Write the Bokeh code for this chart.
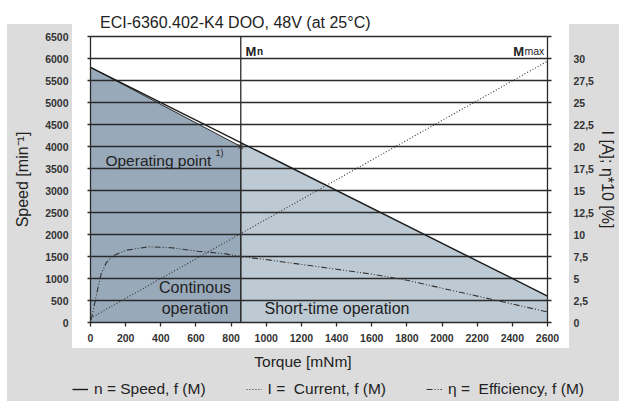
import numpy as np
from bokeh.plotting import figure
from bokeh.models import (Range1d, LinearAxis, FixedTicker, Legend, LegendItem, Label)
from bokeh.core.properties import value
from bokeh.embed import file_html
from bokeh.resources import INLINE

FONT = "Liberation Sans"

# ---------------- data ----------------
title_text = "ECI-6360.402-K4 DOO, 48V (at 25°C)"
torque_ticks = [0, 200, 400, 600, 800, 1000, 1200, 1400, 1600, 1800, 2000, 2200, 2400, 2600]
speed_ticks = [0, 500, 1000, 1500, 2000, 2500, 3000, 3500, 4000, 4500, 5000, 5500, 6000, 6500]
right_ticks = [0.0, 2.5, 5.0, 7.5, 10.0, 12.5, 15.0, 17.5, 20.0, 22.5, 25.0, 27.5, 30.0, 32.5]
right_tick_labels = ["0", "2,5", "5", "7,5", "10", "12,5", "15", "17,5", "20", "22,5",
                     "25", "27,5", "30", ""]

speed_torque = [0, 2600]
speed_values = [5800, 600]
rated_torque = 855
rated_speed = 4000
current_torque = [0, 2600]
current_values = [0.5, 29.7]
eff_torque = [3, 12, 30, 60, 90, 130, 200, 330, 460, 610, 770, 850, 1000, 1200,
              1400, 1600, 1800, 2000, 2200, 2400, 2600]
eff_values = [0.3, 1.0, 2.8, 5.5, 6.8, 7.6, 8.2, 8.6, 8.5, 8.1, 7.8, 7.5, 7.15, 6.6,
              6.05, 5.5, 4.8, 3.9, 3.0, 2.1, 1.2]

# ---------------- layout / styling ----------------
W, H = 619, 401
FL, FR, FT, FB = 90, 547, 36, 322          # pixel box of the data area
X0, X1 = torque_ticks[0], torque_ticks[-1]
Y0, Y1 = speed_ticks[0], speed_ticks[-1]
RIGHT_SCALE = 200.0                          # speed units per right-axis unit

def px_x(px):
    return X0 + (px - FL) * (X1 - X0) / (FR - FL)
def px_y(py):
    return Y0 + (FB - py) * (Y1 - Y0) / (FB - FT)

DARK = "#98a9ba"
LIGHT = "#bdcad4"
GRAY = "#dcdcdc"
INK = "#222222"
LINE = "#2a2a2a"

g = "linear-gradient(%s,%s)" % (GRAY, GRAY)
panel_styles = {
    "background-color": "white",
    "background-image": ", ".join([g, g, g]),
    "background-size": "65px 377px, 50px 377px, 612px 53px",
    "background-position": "7px 24px, 569px 24px, 7px 348px",
    "background-repeat": "no-repeat",
}

p = figure(width=W, height=H,
           x_range=Range1d(px_x(0), px_x(W)), y_range=Range1d(px_y(H), px_y(0)),
           output_backend="svg", toolbar_location=None, min_border=0,
           border_fill_color=None, background_fill_color=None,
           outline_line_color=None, styles=panel_styles)
p.extra_y_ranges = {"right": Range1d(px_y(H) / RIGHT_SCALE, px_y(0) / RIGHT_SCALE)}
p.xgrid.visible = False
p.ygrid.visible = False

# operating regions
speed_at_rated = float(np.interp(rated_torque, speed_torque, speed_values))
dark_x = [X0, speed_torque[0], rated_torque, rated_torque]
dark_y = [Y0, speed_values[0], rated_speed, Y0]
light_x = [rated_torque, rated_torque, speed_torque[1], speed_torque[1]]
light_y = [Y0, speed_at_rated, speed_values[1], Y0]
p.patch(light_x, light_y, fill_color=LIGHT, line_color=None, level="image")
p.patch(dark_x, dark_y, fill_color=DARK, line_color=LINE, line_width=1, level="image")

# horizontal grid lines (bounded to the data area) and rated-torque line
gy = speed_ticks[1:]
p.segment(x0=[X0] * len(gy), x1=[X1] * len(gy), y0=gy, y1=gy,
          line_color=LINE, line_width=1.3, level="underlay")
p.segment(x0=[rated_torque], x1=[rated_torque], y0=[Y0], y1=[Y1],
          line_color=LINE, line_width=1.3, level="underlay")

# curves
r_speed = p.line(speed_torque, speed_values, line_color="#1a1a1a", line_width=1.4)
r_curr = p.line(current_torque, current_values, y_range_name="right",
                line_color="#333333", line_width=1.1, line_dash="1 2")
r_eff = p.line(eff_torque, eff_values, y_range_name="right",
               line_color="#333333", line_width=1.1, line_dash="6 2 1 2 1 2")
p.scatter([rated_torque], [rated_speed], marker="asterisk", size=7,
          line_color="#333333", line_width=1)

# axes (fixed on the data area's edges)
def style_axis(ax, tick_out):
    ax.axis_line_color = LINE
    ax.axis_line_width = 1.3
    ax.major_tick_line_color = LINE
    ax.major_tick_line_width = 1.3
    ax.major_tick_out = tick_out
    ax.major_tick_in = 0
    ax.minor_tick_line_color = None
    ax.major_label_text_font = FONT
    ax.major_label_text_font_style = "bold"
    ax.major_label_text_font_size = "10.5px"
    ax.major_label_text_color = "#333333"
    ax.axis_label_text_font = FONT
    ax.axis_label_text_font_style = "normal"
    ax.axis_label_text_font_size = "16px"
    ax.axis_label_text_color = INK

xa = p.xaxis[0]
xa.ticker = FixedTicker(ticks=torque_ticks)
xa.fixed_location = Y0
xa.bounds = (X0, X1)
style_axis(xa, 4)
xa.major_label_standoff = 7

ya = p.yaxis[0]
ya.ticker = FixedTicker(ticks=speed_ticks)
ya.fixed_location = X0
ya.bounds = (Y0, Y1)
style_axis(ya, 3)
ya.major_label_standoff = 19
ya.axis_label = "Speed [min⁻¹]"
ya.axis_label_standoff = 11

yr = LinearAxis(y_range_name="right", ticker=FixedTicker(ticks=right_ticks),
                major_label_overrides={t: s for t, s in zip(right_ticks, right_tick_labels)},
                fixed_location=X1, bounds=(right_ticks[0], right_ticks[-1]))
style_axis(yr, 4)
yr.major_label_standoff = 22
yr.axis_label = "I [A]; η*10 [%]"
yr.axis_label_standoff = 2
p.add_layout(yr, "right")

# texts inside the plot
def txt(x, y, s, size, style="normal", align="left"):
    p.text([x], [y], [s], text_font=value(FONT), text_font_size=size,
           text_font_style=style, text_color=INK, text_align=align,
           text_baseline="alphabetic")

txt(882, 6170, "M", "13px", "bold")
txt(947, 6170, "n", "10px", "bold")
txt(2405, 6170, "M", "13px", "bold")
txt(2469, 6170, "max", "10.5px")
txt(85, 3688, "Operating point", "15.5px")
txt(711, 3850, "1)", "9px")
txt(595, 795, "Continous", "16px", align="center")
txt(595, 308, "operation", "16px", align="center")
txt(990, 308, "Short-time operation", "16px")

# title and torque axis label
p.add_layout(Label(x=px_x(99.5), y=px_y(21.5), text=title_text, text_font=FONT,
                   text_font_size="16px", text_color=INK, text_baseline="alphabetic"))
p.add_layout(Label(x=px_x(302.5), y=px_y(360.5), text="Torque [mNm]", text_font=FONT,
                   text_font_size="15.5px", text_color=INK, text_align="center",
                   text_baseline="alphabetic"))

# legend along the bottom band (location = bottom-left corner, px from frame bottom-left)
legend = Legend(items=[LegendItem(label=value("n = Speed, f (M)"), renderers=[r_speed]),
                       LegendItem(label=value("I =  Current, f (M)"), renderers=[r_curr]),
                       LegendItem(label=value("η =  Efficiency, f (M)"), renderers=[r_eff])],
                location=(72, H - 398), orientation="horizontal",
                label_text_font=FONT, label_text_font_size="15.5px", label_text_color=INK,
                glyph_width=16, glyph_height=16, label_height=16, label_standoff=6,
                padding=0, margin=0, spacing=40, border_line_alpha=0,
                background_fill_alpha=0)
p.add_layout(legend, "center")

open("out.html", "w").write(file_html(p, INLINE))
